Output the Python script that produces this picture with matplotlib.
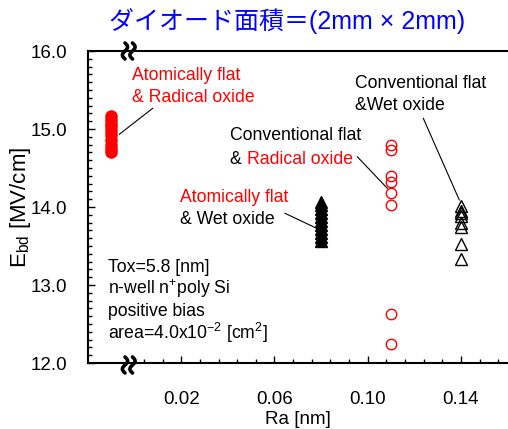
import numpy as np
import matplotlib
matplotlib.use("Agg")
import matplotlib.pyplot as plt
from matplotlib.lines import Line2D
from matplotlib.ticker import FixedLocator, FormatStrFormatter

plt.rcParams['font.family'] = ['Liberation Sans', 'DejaVu Sans']
plt.rcParams['mathtext.fontset'] = 'custom'
plt.rcParams['mathtext.rm'] = 'Liberation Sans'

# ---- data ----
x_af_rad = -0.01
y_af_rad = [15.17, 15.12, 15.07, 15.02, 14.97, 14.92, 14.86, 14.80, 14.75, 14.70]

x_af_wet = 0.08
y_af_wet = [14.07, 14.02, 13.97, 13.92, 13.87, 13.82, 13.77, 13.72, 13.67, 13.62, 13.56]

x_cv_rad = 0.11
y_cv_rad = [14.80, 14.73, 14.40, 14.32, 14.18, 14.03, 12.63, 12.24]

x_cv_wet = 0.14
y_cv_wet = [14.01, 13.95, 13.92, 13.89, 13.80, 13.74, 13.52, 13.33]

xticks = [0.02, 0.06, 0.10, 0.14]
yticks = [12.0, 13.0, 14.0, 15.0, 16.0]

RED = '#ff0000'
W, H = 508, 429

fig = plt.figure(figsize=(W / 100, H / 100), dpi=100)
ax = fig.add_axes([88 / W, 1 - 363 / H, (W - 88) / W - 0.001, (363 - 51) / H])

ax.plot([x_af_rad] * len(y_af_rad), y_af_rad, 'o', ms=8, color=RED, mec=RED, clip_on=False)
ax.plot([x_af_wet] * len(y_af_wet), y_af_wet, '^', ms=8.5, color='black', mec='black')
ax.plot([x_cv_rad] * len(y_cv_rad), y_cv_rad, 'o', ms=7.5, mfc='none', mec=RED, mew=1.0)
ax.plot([x_cv_wet] * len(y_cv_wet), y_cv_wet, '^', ms=8, mfc='none', mec='black', mew=1.0)

ax.set_xlim(-0.02, 0.16)
ax.set_ylim(12.0, 16.0)
ax.set_xticks(xticks)
ax.xaxis.set_minor_locator(FixedLocator(np.arange(0.004, 0.1565, 0.008)))
ax.set_yticks(yticks)
ax.yaxis.set_minor_locator(FixedLocator(np.arange(12.0, 16.01, 0.1)))
ax.yaxis.set_major_formatter(FormatStrFormatter('%.1f'))
ax.xaxis.set_major_formatter(FormatStrFormatter('%.2f'))
ax.tick_params(which='both', direction='in', labelsize=13.5, width=1.0, color='black')
ax.tick_params(which='major', length=5)
ax.tick_params(which='minor', length=3)
ax.tick_params(axis='x', pad=20)
ax.tick_params(axis='y', pad=15)
ax.spines['right'].set_visible(False)
for s in ['left', 'top', 'bottom']:
    ax.spines[s].set_linewidth(1.5)

ax.set_xlabel('Ra [nm]', fontsize=13.5, labelpad=2)
ax.set_ylabel(r'E$_\mathregular{bd}$ [MV/cm]', fontsize=16, labelpad=-2)

# axis break marks
def brk(xc, yc):
    t = np.linspace(-1, 1, 40)
    for dx in (-4.0, 3.5):
        xs = xc + dx + 2.6 * np.sin(np.pi * t)
        ys = yc - 8 * t
        fig.add_artist(Line2D(xs / W, 1 - ys / H, color='black', lw=2.6,
                              solid_capstyle='round'))

def px(x, y):
    return x / W, 1 - y / H

brk(129, 51)
brk(129, 365)

def txt(x, y, s, color='black', size=12.7, **kw):
    fig.text(*px(x, y), s, color=color, fontsize=size, va='center', ha='left', **kw)

txt(132, 76, 'Atomically flat', RED)
txt(132, 97, '& Radical oxide', RED)
txt(230, 136, 'Conventional flat')
txt(230, 159, '& ')
txt(247, 159, 'Radical oxide', RED)
txt(180, 197, 'Atomically flat', RED)
txt(180, 219, '& Wet oxide')
txt(355, 84, 'Conventional flat')
txt(355, 105, '&Wet oxide')

txt(108, 267, 'Tox=5.8 [nm]')
txt(108, 289, r'n-well n$^\mathregular{+}$poly Si')
txt(108, 311, 'positive bias')
txt(108, 333, r'area=4.0x10$^\mathregular{-2}$ [cm$^\mathregular{2}$]')

for (x0, y0, x1, y1) in [(152.7, 108.3, 119.3, 134.3),
                         (357.3, 156.7, 387.3, 188.3),
                         (285, 213.3, 316.7, 228.3),
                         (423.3, 118.3, 459.3, 200)]:
    fig.add_artist(Line2D([x0 / W, x1 / W], [1 - y0 / H, 1 - y1 / H], color='black', lw=0.8))

fig.text(*px(287, 21), 'ダイオード面積＝(2mm × 2mm)', color='#0000ff', fontsize=18,
         ha='center', va='center', family=['Liberation Sans', 'Noto Sans CJK JP'])

fig.savefig('out.png', dpi=100)
